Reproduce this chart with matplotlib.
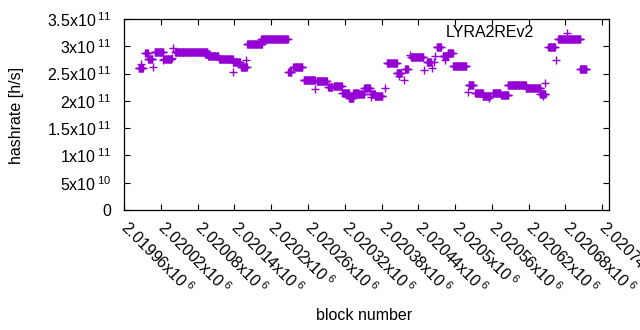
import matplotlib
matplotlib.use('Agg')
import matplotlib.pyplot as plt
import numpy as np

plt.rcParams['font.family'] = ['Liberation Sans', 'DejaVu Sans']
plt.rcParams['mathtext.fontset'] = 'custom'
plt.rcParams['mathtext.rm'] = 'Liberation Sans'
plt.rcParams['mathtext.it'] = 'Liberation Sans'

base = 2019960
# runs of consecutive blocks with the same hashrate (block offsets, value in 1e11 h/s)
run_start = [24, 35, 39, 50, 66, 83, 132, 137, 155, 178, 191,
             201, 224, 268, 276, 293, 314, 333, 342, 356, 367, 374, 381, 392,
             403, 409, 429, 445, 459, 468, 494, 510, 520, 528, 537, 562, 573, 585,
             601, 615, 626, 655, 679, 692, 708, 744]
run_end = [31, 39, 46, 64, 77, 136, 139, 154, 177, 189, 200,
           225, 267, 273, 291, 311, 331, 340, 355, 367, 374, 382, 391, 401,
           409, 421, 445, 452, 463, 488, 501, 517, 528, 536, 558, 570, 585, 597,
           614, 627, 655, 679, 687, 703, 744, 754]
run_val = [2.60, 2.87, 2.76, 2.90, 2.76, 2.89, 2.85, 2.82, 2.76, 2.71, 2.62,
           3.04, 3.13, 2.52, 2.615, 2.376, 2.36, 2.25, 2.27, 2.14, 2.05, 2.15, 2.12, 2.23,
           2.12, 2.08, 2.69, 2.51, 2.58, 2.80, 2.72, 2.98, 2.82, 2.87, 2.63, 2.29, 2.14, 2.09,
           2.15, 2.10, 2.285, 2.23, 2.125, 2.98, 3.13, 2.58]
# isolated blocks
single_x = [27, 48, 64, 78, 80, 177, 199, 312, 403, 425, 449, 457, 466, 490,
            502, 506, 508, 524, 561, 595, 684, 687, 704, 722]
single_y = [2.68, 2.62, 2.75, 2.78, 2.96, 2.53, 2.74, 2.21, 2.07, 2.23, 2.46, 2.38, 2.84, 2.565,
            2.61, 2.72, 2.83, 2.75, 2.17, 2.05, 2.09, 2.32, 2.74, 3.25]

xticks = [2019960 + 60 * k for k in range(14)]
yticks = [0, 5e10, 1e11, 1.5e11, 2e11, 2.5e11, 3e11, 3.5e11]
ytick_labels = ['0', r'5x10$\,^{10}$', r'1x10$\,^{11}$', r'1.5x10$\,^{11}$', r'2x10$\,^{11}$',
                r'2.5x10$\,^{11}$', r'3x10$\,^{11}$', r'3.5x10$\,^{11}$']

bx = np.concatenate([np.arange(s, e + 1) for s, e in zip(run_start, run_end)] + [np.array(single_x)])
by = np.concatenate([np.repeat(v, e - s + 1) for s, e, v in zip(run_start, run_end, run_val)] + [np.array(single_y)])

fig = plt.figure(figsize=(6.4, 3.3), dpi=100)
ax = fig.add_axes([124 / 640, 1 - 210 / 330, 485 / 640, 191 / 330])
ax.plot(base + bx, by * 1e11, '+', color='#9400D3', ms=5.4, mew=1.0, linestyle='none')

ax.set_xlim(2019960, 2020751)
ax.set_ylim(0, 3.5e11)
ax.set_yticks(yticks)
ax.set_yticklabels(ytick_labels, fontsize=11.5)
ax.set_xticks(xticks)
ax.set_xticklabels(['%gx10$\\,^{6}$' % (v / 1e6) for v in xticks], fontsize=11.5,
                   rotation=-45, ha='left', va='center', rotation_mode='anchor')
ax.tick_params(direction='in', length=4.5, width=0.8, top=True, right=True)
ax.tick_params(axis='y', pad=9)
ax.tick_params(axis='x', pad=10)
for s in ax.spines.values():
    s.set_linewidth(0.9)

ax.text(0.845, 0.93, 'LYRA2REv2', transform=ax.transAxes, ha='right', va='center', fontsize=11.5)
fig.text(17 / 640, 1 - 115 / 330, 'hashrate [h/s]', rotation=90, ha='center', va='center', fontsize=11.5)
fig.text(364 / 640, 1 - 316 / 330, 'block number', ha='center', va='center', fontsize=11.5)

fig.savefig('out.png', dpi=100)
